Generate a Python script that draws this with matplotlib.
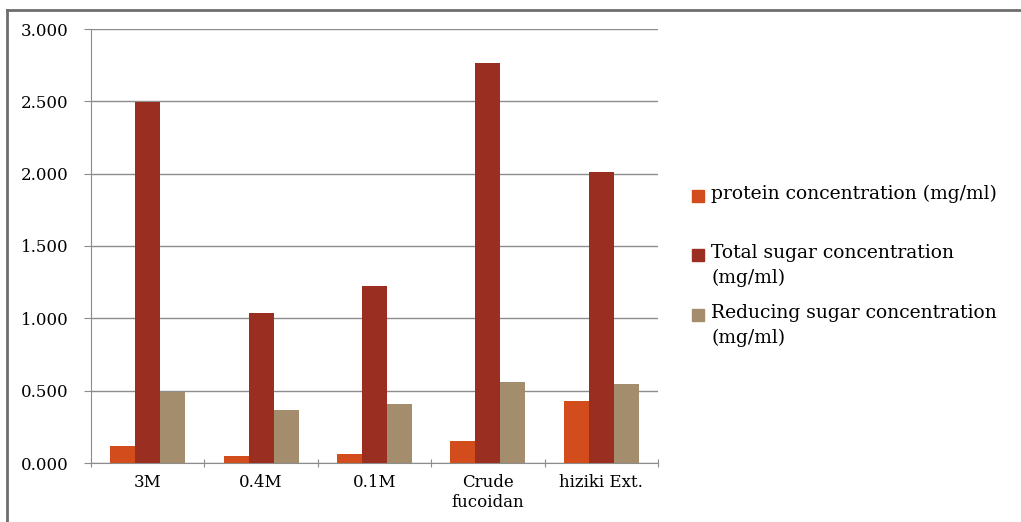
import matplotlib.pyplot as plt
import numpy as np
from matplotlib.patches import Rectangle
from matplotlib.lines import Line2D

categories = ['3M', '0.4M', '0.1M', 'Crude\nfucoidan', 'hiziki Ext.']
protein = [0.117, 0.045, 0.062, 0.152, 0.43]
total_sugar = [2.495, 1.035, 1.225, 2.765, 2.01]
reducing_sugar = [0.49, 0.365, 0.408, 0.56, 0.544]

series_labels = ['protein concentration (mg/ml)',
                 'Total sugar concentration\n(mg/ml)',
                 'Reducing sugar concentration\n(mg/ml)']
series_colors = ['#D34C1C', '#9A2E20', '#A38D6C']
yticks = [0.0, 0.5, 1.0, 1.5, 2.0, 2.5, 3.0]

plt.rcParams['font.family'] = ['DejaVu Serif']

fig = plt.figure(figsize=(10.21, 5.22), dpi=100)
ax = fig.add_axes([91 / 1021, 59 / 522, 567 / 1021, 434 / 522])

x = np.arange(len(categories))
w = 0.22
for i, (vals, col) in enumerate(zip([protein, total_sugar, reducing_sugar], series_colors)):
    ax.bar(x + (i - 1) * w, vals, w, color=col, zorder=3)

ax.set_xlim(-0.5, len(categories) - 0.5)
ax.set_ylim(0, 3.0)
ax.set_yticks(yticks)
ax.set_yticklabels(['%.3f' % v for v in yticks], fontsize=12)
ax.yaxis.grid(True, color='#8c8c8c', linewidth=1.0, zorder=0)
ax.set_axisbelow(True)

# category ticks sit on the group boundaries, labels centred under the groups
ax.set_xticks(np.arange(len(categories) + 1) - 0.5)
ax.set_xticklabels([])
ax.set_xticks(x, minor=True)
ax.set_xticklabels(categories, minor=True, fontsize=12, linespacing=1.25)
ax.tick_params(axis='x', which='minor', length=0, pad=8)
ax.tick_params(axis='x', which='major', length=6, color='#8c8c8c', direction='inout')
ax.tick_params(axis='y', length=5, color='#8c8c8c', pad=11)

for s in ['top', 'right']:
    ax.spines[s].set_visible(False)
ax.spines['left'].set_color('#8c8c8c')
ax.spines['bottom'].set_color('#8c8c8c')

# legend on the right, markers aligned with the first text line
leg_rows = [196, 255, 315]
for lab, col, yy in zip(series_labels, series_colors, leg_rows):
    fy = 1 - yy / 522
    fig.patches.append(Rectangle((692 / 1021, fy - 6 / 522), 12 / 1021, 12 / 522,
                                 transform=fig.transFigure, color=col))
    fig.text(711 / 1021, fy + 11 / 522, lab, fontsize=13.5, va='top', ha='left',
             linespacing=1.5, transform=fig.transFigure)

# frame lines along the top and left edge
fig.add_artist(Line2D([7 / 1021, 1], [1 - 10 / 522, 1 - 10 / 522], transform=fig.transFigure,
                      color='#6e6e6e', linewidth=2))
fig.add_artist(Line2D([7 / 1021, 7 / 1021], [0, 1 - 10 / 522], transform=fig.transFigure,
                      color='#6e6e6e', linewidth=2))

fig.savefig('out.png', dpi=100)
